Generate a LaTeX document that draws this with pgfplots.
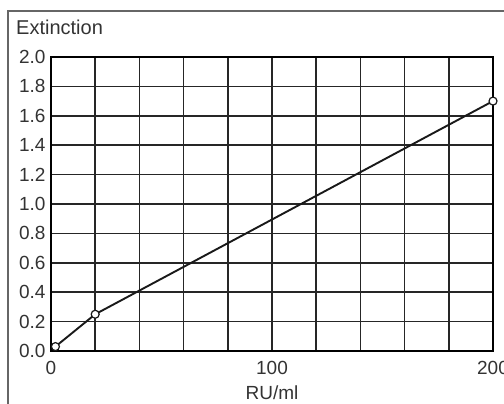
\documentclass[border=0pt]{standalone}
\usepackage{pgfplots}
\pgfplotsset{compat=1.18}
\usepackage{fontspec}
\setmainfont{Liberation Sans}

\begin{document}
\begin{tikzpicture}[x=1bp,y=1bp]
\useasboundingbox (0,0) rectangle (504,403);
\clip (0,0) rectangle (504,403);
% outer frame, cut off at right and bottom
\draw[gray!80!black, line width=1.3bp] (8,-20) -- (8,392) -- (530,392);
\begin{axis}[
  at={(51bp,52bp)}, anchor=south west,
  scale only axis, width=442bp, height=294bp,
  xmin=0, xmax=200, ymin=0, ymax=2,
  xtick={0,100,200},
  minor xtick={20,40,60,80,120,140,160,180},
  ytick={0,0.2,...,2.0},
  y tick label style={xshift=-2bp, /pgf/number format/fixed,
    /pgf/number format/fixed zerofill, /pgf/number format/precision=1},
  major tick length=0pt, minor tick length=0pt,
  grid=both,
  grid style={black!85, line width=1.5bp},
  minor grid style={black!85, line width=1.5bp},
  axis line style={black, line width=2.4bp},
  tick label style={font=\fontsize{19bp}{22bp}\selectfont, text=black!80},
  x tick label style={yshift=-7bp},
  /pgf/number format/assume math mode=true,
  xlabel={RU/ml},
  xlabel style={at={(axis description cs:0.5,0)}, anchor=base, yshift=-48bp,
    font=\fontsize{19bp}{22bp}\selectfont, text=black!80},
  clip=false,
]
\addplot[black!90, line width=1.9bp, mark=*, mark size=4bp,
  mark options={fill=white, draw=black!90, line width=1.2bp}]
  coordinates {(2,0.03) (20,0.25) (200,1.70)};
\end{axis}
\node[anchor=base west, inner sep=0, font=\fontsize{20bp}{24bp}\selectfont, text=black!80]
  at (16,369) {Extinction};
\end{tikzpicture}
\end{document}
